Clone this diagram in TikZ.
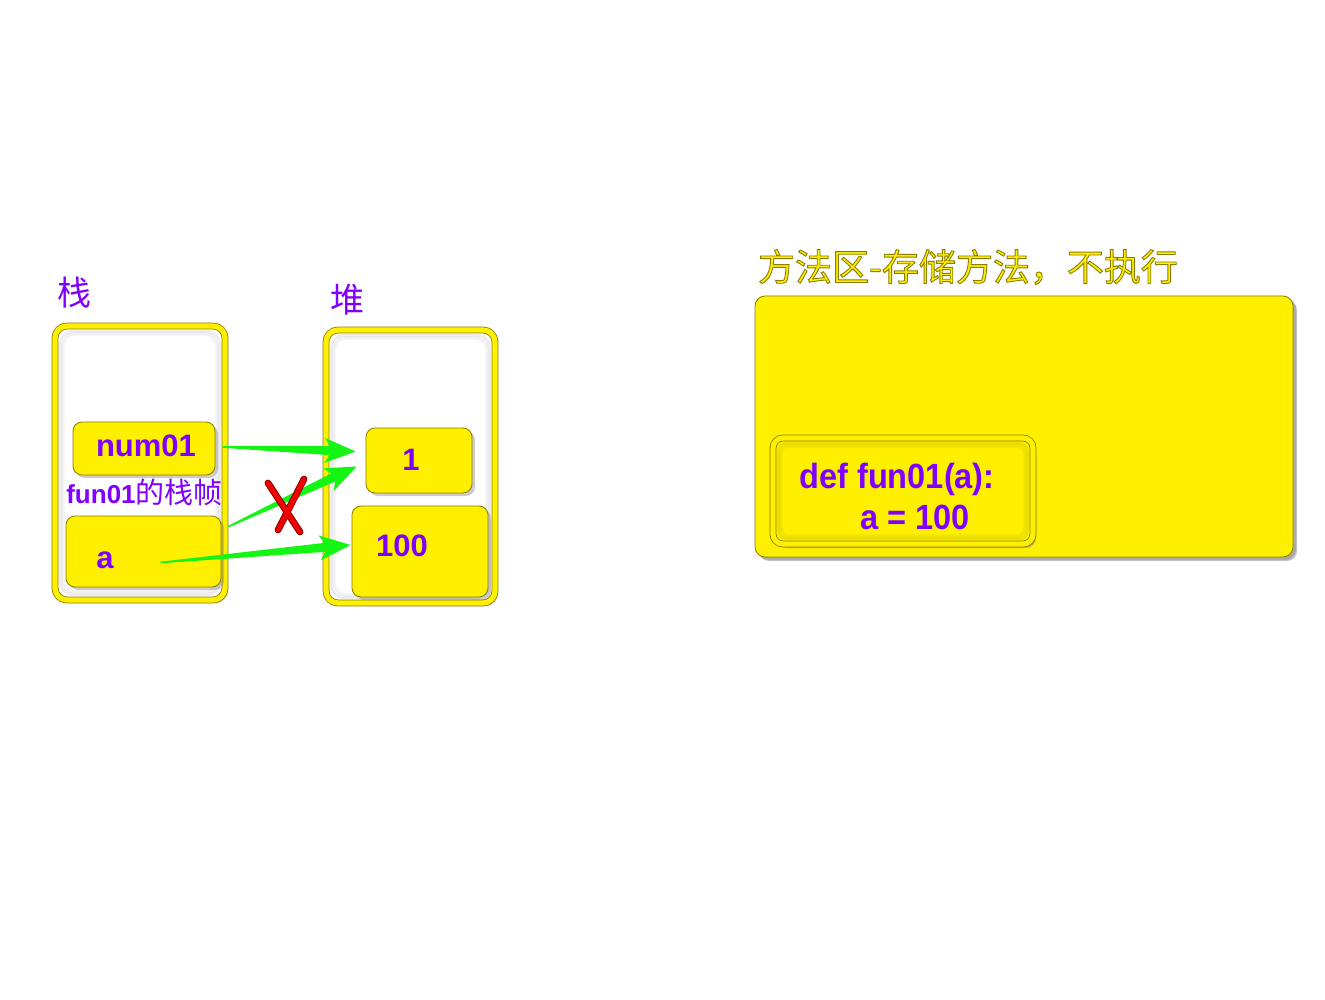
\documentclass[tikz,border=0pt]{standalone}
\usepackage{fontspec}
\setmainfont{Liberation Sans}
\newfontfamily\cjk{Noto Sans CJK SC}
\usetikzlibrary{shadows,calc}
\definecolor{ybox}{RGB}{255,240,0}
\definecolor{yedge}{RGB}{140,125,0}
\definecolor{purp}{RGB}{128,0,255}
\definecolor{agreen}{RGB}{20,245,20}
\definecolor{xred}{RGB}{240,0,0}
\newcommand{\greenarrow}[3]{%
  \coordinate (#3n) at ($(#2)!26pt!(#1)$);
  \coordinate (#3b) at ($(#2)!31pt!(#1)$);
  \fill[agreen] ($(#1)!0.8pt!90:(#2)$) -- ($(#3n)!4.5pt!90:(#2)$) -- ($(#3b)!12.5pt!90:(#2)$) -- (#2)
     -- ($(#3b)!12.5pt!-90:(#2)$) -- ($(#3n)!4.5pt!-90:(#2)$) -- ($(#1)!0.8pt!-90:(#2)$) -- cycle;}
\newcommand{\innershade}[2][12pt]{%
  \draw[black, opacity=0.07, line width=3pt, rounded corners=#1]
    ($(#2.north west)+(6,6)$) rectangle ($(#2.south east)+(-6,-6)$);
  \draw[black, opacity=0.05, line width=3pt, rounded corners=#1]
    ($(#2.north west)+(8.5,8.5)$) rectangle ($(#2.south east)+(-8.5,-8.5)$);}
\begin{document}
\begin{tikzpicture}[x=1pt,y=-1pt,
  frame/.style={draw=yedge, line width=0.8pt, double=ybox, double distance=5.2pt,
    rounded corners=12pt, fill=white, inner sep=0pt,
    drop shadow={shadow xshift=3pt, shadow yshift=-3pt, opacity=0.35}},
  vbox/.style={draw=yedge, line width=0.8pt, fill=ybox, rounded corners=9pt, inner sep=0pt,
    drop shadow={shadow xshift=3pt, shadow yshift=-3pt, opacity=0.4}},
  vtext/.style={text=purp, font=\bfseries\fontsize{31}{36}\selectfont, inner sep=0pt},
  deftext/.style={text=purp, font=\bfseries\fontsize{35}{40}\selectfont\addfontfeature{FakeStretch=0.93}, inner sep=0pt},
  clabel/.style={text=purp, font=\cjk\fontsize{34}{38}\selectfont, inner sep=0pt},
  xstroke/.style={line cap=round}]
\useasboundingbox (0,0) rectangle (1325,1000);
% stack and heap frames
\node[frame, minimum width=170pt, minimum height=274pt] (stack) at (140,463) {};
\node[frame, minimum width=169pt, minimum height=273pt] (heap) at (410.5,466.5) {};
\innershade{stack}
\innershade{heap}
\node[clabel] (stacklbl) at (74,293) {栈};
\node[clabel] (heaplbl) at (347,300) {堆};
% boxes
\node[vbox, minimum width=142pt, minimum height=53pt] (num01) at (144,448.5) {};
\node[vbox, minimum width=155pt, minimum height=71pt] (abox) at (143.5,551.5) {};
\node[vbox, minimum width=106pt, minimum height=65pt] (one) at (419,460.5) {};
\node[vbox, minimum width=136pt, minimum height=91pt] (hundred) at (420,551.5) {};
\node[vtext] (num01t) at (146,446) {num01};
\node[vtext] (at) at (105,560) {a};
\node[vtext] (onet) at (411,460) {1};
\node[vtext] (hundredt) at (402,546) {100};
\node[text=purp, inner sep=0pt] (framelbl) at (144.5,492)
  {\fontsize{26}{30}\selectfont\textbf{fun01}\cjk\fontsize{29}{30}\selectfont 的栈帧};
% arrows
\coordinate (s1) at ($(num01.east)+(7,-1.5)$);
\coordinate (t1) at ($(one.west)+(-10,-9)$);
\coordinate (s2) at ($(abox.north east)+(7,11)$);
\coordinate (t2) at ($(one.west)+(-9,6)$);
\coordinate (s3) at ($(abox.center)+(17,11)$);
\coordinate (t3) at ($(hundred.west)+(-1,-6.5)$);
\greenarrow{s1}{t1}{ga}
\greenarrow{s2}{t2}{gb}
\greenarrow{s3}{t3}{gc}
% red cross
\draw[xstroke, line width=6.8pt, red!55!black] (268,483) -- (300,532) (304,479) -- (278,530);
\draw[xstroke, line width=4.8pt, xred] (268,483) -- (300,532) (304,479) -- (278,530);
% method area
\node[vbox, rounded corners=10pt, minimum width=538pt, minimum height=261pt,
  drop shadow={shadow xshift=4pt, shadow yshift=-4pt, opacity=0.45}] (method) at (1024,426.5) {};
\node[frame, fill=ybox, rounded corners=10pt, minimum width=260pt, minimum height=106pt,
  drop shadow={shadow xshift=3pt, shadow yshift=-4pt, opacity=0.45}] (defbox) at (903,491) {};
\innershade[8pt]{defbox}
\node[deftext] (def1) at (897,479) {def fun01(a):};
\node[deftext] (def2) at (915,517) {a = 100};
\node[text=ybox, inner sep=0pt, font=\cjk\fontsize{37}{40}\selectfont] (title) at (968,267)
  {\special{pdf:code 2 Tr 0.9 w 0.55 0.49 0 RG}方法区-存储方法，不执行\special{pdf:code 0 Tr}};
\end{tikzpicture}
\end{document}
